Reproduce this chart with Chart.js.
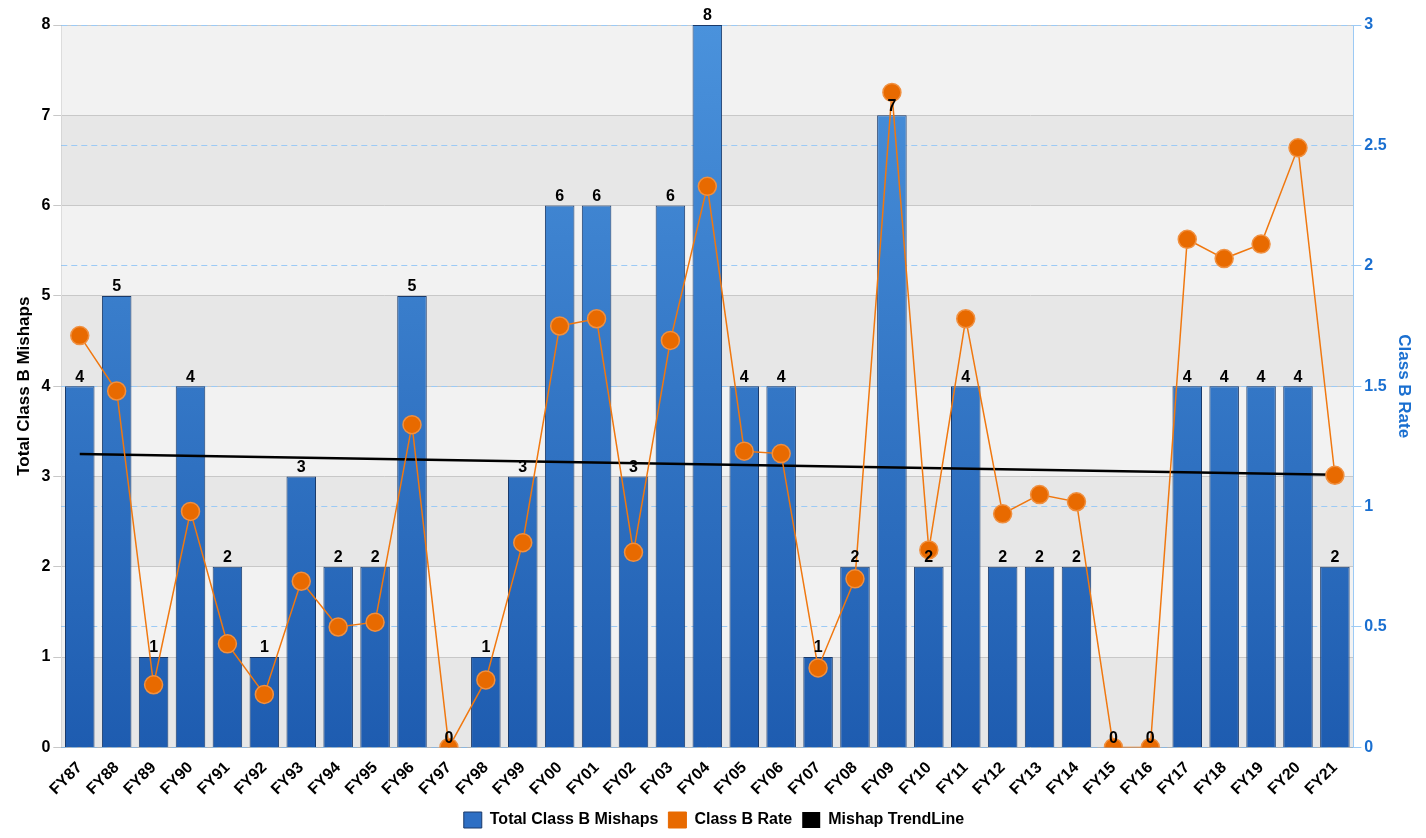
<!DOCTYPE html>
<html><head><meta charset="utf-8">
<script src="https://cdn.jsdelivr.net/npm/chart.js@4/dist/chart.umd.min.js"></script>
<style>html,body{margin:0;background:#fff}#w{width:1426px;height:838px}</style>
</head><body><div id="w"><canvas id="c"></canvas></div>
<script>
const categories=['FY87','FY88','FY89','FY90','FY91','FY92','FY93','FY94','FY95','FY96','FY97','FY98','FY99','FY00','FY01','FY02','FY03','FY04','FY05','FY06','FY07','FY08','FY09','FY10','FY11','FY12','FY13','FY14','FY15','FY16','FY17','FY18','FY19','FY20','FY21'];
const mishaps=[4,5,1,4,2,1,3,2,2,5,0,1,3,6,6,3,6,8,4,4,1,2,7,2,4,2,2,2,0,0,4,4,4,4,2];
const rates=[1.71,1.48,0.26,0.98,0.43,0.22,0.69,0.50,0.52,1.34,0,0.28,0.85,1.75,1.78,0.81,1.69,2.33,1.23,1.22,0.33,0.70,2.72,0.82,1.78,0.97,1.05,1.02,0,0,2.11,2.03,2.09,2.49,1.13];
const trend=categories.map((c,i)=>i===0?3.25:(i===categories.length-1?3.02:null));
const F='"Liberation Sans", Arial, sans-serif';
const bands={id:'bands',beforeDraw(ch){const {ctx,chartArea:a,scales:{y}}=ch;ctx.save();
 for(let v=0;v<8;v++){ctx.fillStyle=(v%2===1)?'#f2f2f2':'#e7e7e7';const t=y.getPixelForValue(v+1),b=y.getPixelForValue(v);ctx.fillRect(a.left,t,a.right-a.left,b-t);}ctx.restore();}};
const labels={id:'labels',afterDatasetsDraw(ch){const {ctx}=ch;const m=ch.getDatasetMeta(0);ctx.save();ctx.font='bold 16px '+F;ctx.fillStyle='#000';ctx.textAlign='center';ctx.textBaseline='bottom';
 m.data.forEach((b,i)=>ctx.fillText(mishaps[i],b.x,b.y-1));ctx.restore();}};
new Chart(document.getElementById('c'),{
 data:{labels:categories,datasets:[
  {type:'bar',label:'Total Class B Mishaps',data:mishaps,yAxisID:'y',borderColor:'#1a3a6a',borderWidth:1,categoryPercentage:0.8,barPercentage:1,order:3,
   backgroundColor:(c)=>{const a=c.chart.chartArea;if(!a)return '#3a7ccc';const g=c.chart.ctx.createLinearGradient(0,a.top,0,a.bottom);g.addColorStop(0,'#4a92dc');g.addColorStop(1,'#1e5cb0');return g;}},
  {type:'line',label:'Class B Rate',data:rates,yAxisID:'y2',borderColor:'#f07810',backgroundColor:'#e86a00',borderWidth:1.5,pointRadius:9,pointHoverRadius:9,pointBackgroundColor:'#e86a00',pointBorderColor:'#f09040',order:1},
  {type:'line',label:'Mishap TrendLine',data:trend,yAxisID:'y',borderColor:'#000',backgroundColor:'#000',borderWidth:2.5,pointRadius:0,spanGaps:true,order:2}
 ]},
 options:{responsive:true,maintainAspectRatio:false,animation:false,
  layout:{padding:{top:25,right:8,left:10}},
  plugins:{legend:{position:'bottom',labels:{font:{family:F,size:16,weight:'bold'},color:'#000',boxWidth:18,boxHeight:16,padding:10,
   generateLabels(ch){return [
    {text:'Total Class B Mishaps',fillStyle:'#2e6fc4',strokeStyle:'#1a3a6a',lineWidth:1,datasetIndex:0},
    {text:'Class B Rate',fillStyle:'#e86a00',strokeStyle:'#e86a00',lineWidth:1,datasetIndex:1},
    {text:'Mishap TrendLine',fillStyle:'#000',strokeStyle:'#000',lineWidth:0,datasetIndex:2}];}}},tooltip:{enabled:false}},
  scales:{
   x:{grid:{display:false},ticks:{font:{family:F,size:16,weight:'bold'},color:'#000',maxRotation:45,minRotation:45,autoSkip:false}},
   y:{position:'left',min:0,max:8,ticks:{stepSize:1,font:{family:F,size:16,weight:'bold'},color:'#000'},grid:{color:'#c8c8c8'},
      title:{display:true,text:'Total Class B Mishaps',font:{family:F,size:17,weight:'bold'},color:'#000'}},
   y2:{position:'right',min:0,max:3,ticks:{stepSize:0.5,callback:v=>String(v),font:{family:F,size:16,weight:'bold'},color:'#1a6fd0'},grid:{color:'#9ccaf5'},border:{dash:[6,4],color:'#9ccaf5'},
      title:{display:true,text:'Class B Rate',font:{family:F,size:17,weight:'bold'},color:'#1a6fd0'}}
  }},
 plugins:[bands,labels]});
</script></body></html>
